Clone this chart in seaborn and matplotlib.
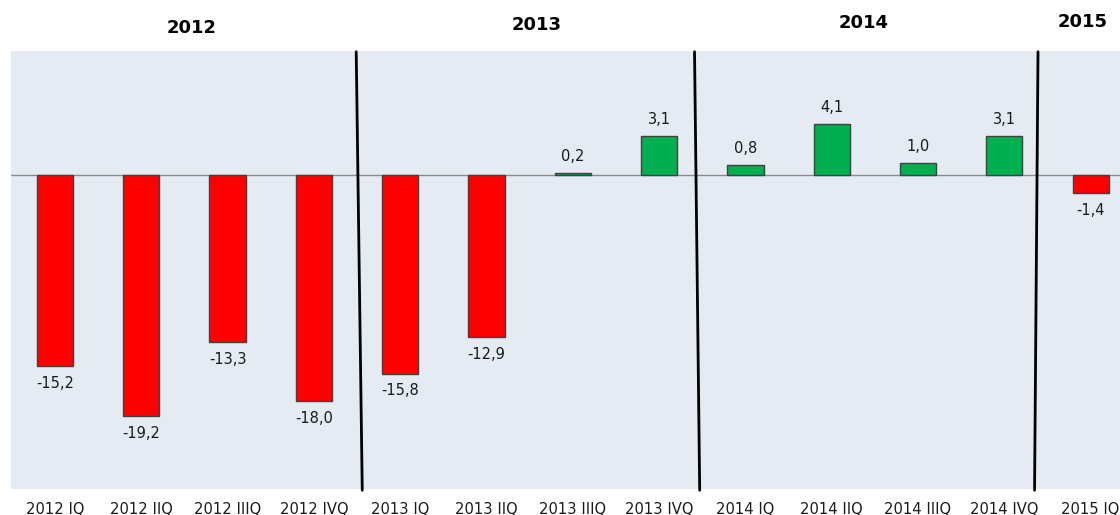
import matplotlib
matplotlib.use("Agg")
import matplotlib.pyplot as plt
import seaborn as sns
import pandas as pd

categories = ["2012 IQ", "2012 IIQ", "2012 IIIQ", "2012 IVQ",
              "2013 IQ", "2013 IIQ", "2013 IIIQ", "2013 IVQ",
              "2014 IQ", "2014 IIQ", "2014 IIIQ", "2014 IVQ",
              "2015 IQ"]
values = [-15.2, -19.2, -13.3, -18.0, -15.8, -12.9, 0.2, 3.1, 0.8, 4.1, 1.0, 3.1, -1.4]
value_labels = ["-15,2", "-19,2", "-13,3", "-18,0", "-15,8", "-12,9", "0,2", "3,1",
                "0,8", "4,1", "1,0", "3,1", "-1,4"]
years = ["2012", "2013", "2014", "2015"]

sns.set_theme(style="white")
plt.rcParams['font.family'] = ['DejaVu Sans']

df = pd.DataFrame({"cat": categories, "val": values,
                   "sign": ["neg" if v < 0 else "pos" for v in values]})

fig = plt.figure(figsize=(11.2, 5.15), dpi=100)
ax = fig.add_axes([11/1120, 26/515, 1 - 11/1120, (489 - 51)/515])
ax.set_facecolor("#E4EBF3")

sns.barplot(data=df, x="cat", y="val", hue="sign",
            palette={"neg": "#FF0000", "pos": "#00B050"}, saturation=1,
            width=0.42, dodge=False, legend=False,
            edgecolor="#404040", linewidth=1.0, ax=ax, zorder=3)

ax.set_xlim(-0.51, 12.34)
ax.set_ylim(-25, 9.9)
ax.axhline(0, color="#8C8C8C", linewidth=1.0, zorder=2)

for i, (v, lab) in enumerate(zip(values, value_labels)):
    off = 12 if v >= 0 else -12.5
    ax.annotate(lab, (i, v), xytext=(0, off), textcoords="offset points",
                ha="center", va="center", fontsize=10.5, color="#1a1a1a")

# year separators (slightly slanted like the original)
seps = [(3.49, 3.56), (7.41, 7.47), (11.39, 11.35)]
for top, bot in seps:
    ax.plot([top, bot], [9.84, -25.1], color="black", linewidth=2.0,
            clip_on=False, zorder=4)

for s in ax.spines.values():
    s.set_visible(False)
ax.set_yticks([])
ax.set_xlabel("")
ax.set_ylabel("")
ax.tick_params(axis="x", length=0, pad=9, labelsize=10.6, labelcolor="#1a1a1a")

year_pos = [(192, 28), (537, 25), (864, 23), (1083, 22)]
for y, (px, py) in zip(years, year_pos):
    fig.text(px / 1120, 1 - py / 515, y, ha="center", va="center",
             fontsize=13, fontweight="bold", color="black")

fig.savefig("out.png", dpi=100)
